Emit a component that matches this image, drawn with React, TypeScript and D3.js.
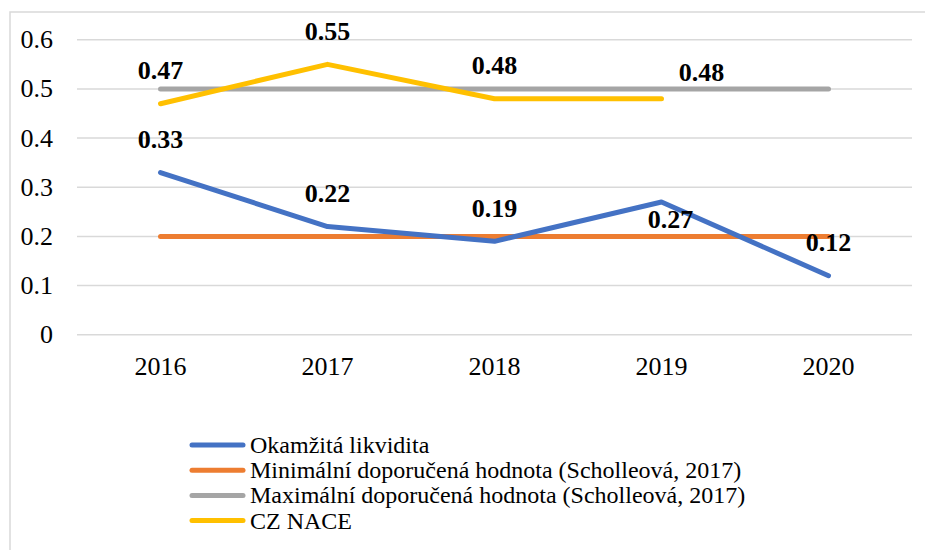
import React from "react";
import * as d3 from "d3";

const years = ["2016", "2017", "2018", "2019", "2020"];
const yTicks = [0, 0.1, 0.2, 0.3, 0.4, 0.5, 0.6];
const okamzita = [0.33, 0.22, 0.19, 0.27, 0.12];
const minimalni = [0.2, 0.2, 0.2, 0.2, 0.2];
const maximalni = [0.5, 0.5, 0.5, 0.5, 0.5];
const czNace = [0.47, 0.55, 0.48, 0.48];

const seriesNames = [
  "Okamžitá likvidita",
  "Minimální doporučená hodnota (Scholleová, 2017)",
  "Maximální doporučená hodnota (Scholleová, 2017)",
  "CZ NACE",
];
const colors = ["#4472C4", "#ED7D31", "#A5A5A5", "#FFC000"];

const FONT = '"Liberation Serif", "DejaVu Serif", serif';

export default function App() {
  const W = 925;
  const H = 550;
  const x = d3.scalePoint<string>().domain(years).range([77, 912]).padding(0.5);
  const y = d3.scaleLinear().domain([0, 0.6]).range([334.7, 39.8]);
  const line = d3
    .line<number>()
    .x((_, i) => x(years[i]) as number)
    .y((d) => y(d));

  const seriesData = [okamzita, minimalni, maximalni, czNace];
  const drawOrder = [1, 2, 0, 3];

  const labelOffset = (s: number, i: number): [number, number] => {
    if (s === 0 && i === 3) return [9, 26];
    if (s === 3 && i === 3) return [40, -18];
    return [0, -24.5];
  };

  const labeled = [0, 3];

  return (
    <div style={{ fontFamily: FONT }}>
      <svg
        width={W}
        height={H}
        fontFamily="Liberation Serif"
        style={{ position: "absolute", left: 0, top: 0, background: "#fff", fontFamily: FONT }}
      >
        <rect x={10} y={12} width={W + 10} height={H + 10} fill="#fff" stroke="#d9d9d9" strokeWidth={1.5} />
        {yTicks.map((t) => (
          <g key={t}>
            <line x1={77} x2={912} y1={y(t)} y2={y(t)} stroke="#d9d9d9" strokeWidth={1.5} />
            <text x={53} y={y(t) + 8.5} textAnchor="end" fontSize={26} fill="#000">
              {d3.format("")(t)}
            </text>
          </g>
        ))}
        {years.map((yr) => (
          <text key={yr} x={x(yr)} y={375} textAnchor="middle" fontSize={26} fill="#000">
            {yr}
          </text>
        ))}
        {drawOrder.map((s) => (
          <path
            key={s}
            d={line(seriesData[s]) || ""}
            fill="none"
            stroke={colors[s]}
            strokeWidth={5}
            strokeLinecap="round"
            strokeLinejoin="round"
          />
        ))}
        {labeled.map((s) =>
          seriesData[s].map((v, i) => {
            const [dx, dy] = labelOffset(s, i);
            return (
              <text
                key={`${s}-${i}`}
                x={(x(years[i]) as number) + dx}
                y={y(v) + dy}
                textAnchor="middle"
                fontSize={26}
                fontWeight="bold"
                fill="#000"
              >
                {d3.format(".2f")(v)}
              </text>
            );
          })
        )}
        {seriesNames.map((name, i) => {
          const ly = 445 + i * 25.2;
          return (
            <g key={name}>
              <line x1={192} x2={243} y1={ly} y2={ly} stroke={colors[i]} strokeWidth={5} strokeLinecap="round" />
              <text x={250} y={ly + 8} fontSize={24} fill="#000">
                {name}
              </text>
            </g>
          );
        })}
      </svg>
    </div>
  );
}
